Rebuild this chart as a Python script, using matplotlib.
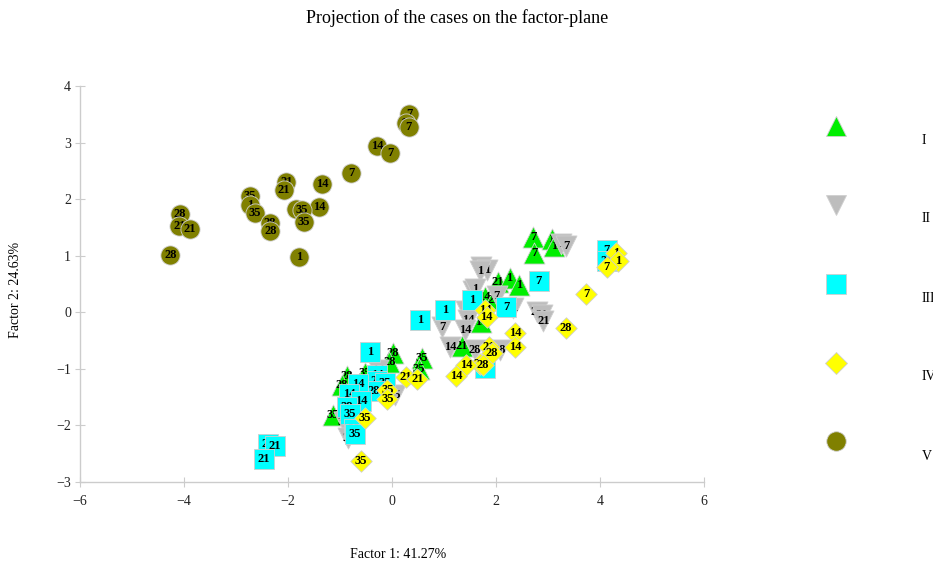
import matplotlib
matplotlib.use("Agg")
import matplotlib.pyplot as plt
from matplotlib.lines import Line2D

plt.rcParams['font.family'] = ['Liberation Serif', 'DejaVu Serif']

groups = ["I", "II", "III", "IV", "V"]
colors = ["#00ee00", "#bdbdbd", "#00ffff", "#ffff00", "#808000"]
markers = ["^", "v", "s", "D", "o"]

# Group I
x_I = [2.72, 2.74, 3.07, 3.11, 2.04, 2.26, 2.44, 1.78, 1.95, 1.71, 1.34, 0.01, -0.05, 0.58, 0.52, -0.87, -0.96, -0.52, -1.13]
y_I = [1.33, 1.05, 1.29, 1.18, 0.54, 0.61, 0.48, 0.27, 0.22, -0.17, -0.60, -0.72, -0.88, -0.80, -1.00, -1.13, -1.29, -1.08, -1.82]
l_I = ["7", "7", "1", "1", "21", "1", "1", "14", "21", "14", "21", "28", "28", "35", "35", "28", "28", "35", "35"]

# Group II
x_II = [3.25, 3.35, 1.71, 1.83, 1.69, 1.56, 1.60, 2.01, 1.42, 1.47, 1.40, 0.97, 1.12, 1.60, 2.08, 2.33, 2.78, 2.88, 2.91, 0.06, -0.92, -0.84, -0.27]
y_II = [1.20, 1.17, 0.80, 0.74, 0.73, 0.38, 0.41, 0.28, 0.02, -0.14, -0.32, -0.26, -0.61, -0.67, -0.67, 0.08, 0.01, -0.05, -0.15, -1.47, -1.94, -2.23, -1.02]
l_II = ["1", "7", "7", "1", "1", "1", "1", "7", "7", "14", "14", "7", "14", "28", "28", "21", "21", "21", "21", "35", "35", "28", "14"]

# Group III
x_III = [4.13, 4.13, 2.82, 2.20, 1.54, 1.02, 0.54, -0.42, 1.79, -0.28, -0.29, -0.13, -0.35, -0.65, -0.83, -0.60, -0.87, -0.81, -0.74, -0.71, -2.38, -2.25, -2.46]
y_III = [1.10, 0.91, 0.55, 0.09, 0.22, 0.04, -0.14, -0.70, -0.98, -1.11, -1.22, -1.25, -1.40, -1.26, -1.44, -1.57, -1.67, -1.79, -2.06, -2.16, -2.33, -2.37, -2.59]
l_III = ["7", "21", "7", "7", "1", "1", "1", "1", "35", "14", "21", "35", "28", "14", "14", "14", "28", "35", "28", "35", "21", "21", "21"]

# Group IV
x_IV = [4.31, 4.35, 4.13, 3.74, 3.34, 2.37, 2.37, 1.79, 1.82, 1.87, 1.92, 1.69, 1.75, 1.42, 1.23, 0.27, 0.49, -0.09, -0.09, -0.52, -0.60]
y_IV = [1.05, 0.91, 0.80, 0.33, -0.28, -0.37, -0.62, 0.04, -0.08, -0.61, -0.72, -0.91, -0.93, -0.94, -1.13, -1.14, -1.18, -1.38, -1.53, -1.86, -2.63]
l_IV = ["1", "1", "7", "7", "28", "14", "14", "14", "14", "21", "28", "35", "28", "14", "14", "21", "21", "35", "35", "35", "35"]

# Group V
x_V = [0.33, 0.27, 0.32, -0.29, -0.04, -0.78, -2.03, -2.08, -1.35, -1.40, -2.74, -2.73, -2.63, -4.08, -4.09, -3.88, -4.26, -2.35, -2.34, -1.85, -1.74, -1.69, -1.78]
y_V = [3.51, 3.35, 3.28, 2.94, 2.82, 2.46, 2.30, 2.17, 2.27, 1.86, 2.05, 1.89, 1.76, 1.74, 1.53, 1.48, 1.02, 1.57, 1.44, 1.82, 1.80, 1.60, 0.98]
l_V = ["7", "14", "7", "14", "7", "7", "21", "21", "14", "14", "35", "1", "35", "28", "21", "21", "28", "28", "28", "1", "35", "35", "1"]

xs = [x_I, x_II, x_III, x_IV, x_V]
ys = [y_I, y_II, y_III, y_IV, y_V]
ls = [l_I, l_II, l_III, l_IV, l_V]
sizes = [230, 230, 190, 120, 190]

xticks = [-6, -4, -2, 0, 2, 4, 6]
yticks = [-3, -2, -1, 0, 1, 2, 3, 4]

fig = plt.figure(figsize=(9.33, 5.63), dpi=100)
ax = fig.add_axes([80/933, 1-482/563, 624/933, 396/563])

z = 2
for g in range(5):
    for xv, yv, lab in zip(xs[g], ys[g], ls[g]):
        ax.scatter([xv], [yv], s=sizes[g], marker=markers[g], c=colors[g],
                   edgecolors="#cfcfcf", linewidths=0.6, zorder=z)
        ax.text(xv, yv, lab, ha="center", va="center", fontsize=9,
                fontweight="bold", color="black", zorder=z + 0.5)
        z += 1

ax.set_xlim(-6, 6)
ax.set_ylim(-3, 4)
ax.set_xticks(xticks)
ax.set_yticks(yticks)
ax.set_xticklabels(["\u2212" + str(-t) if t < 0 else str(t) for t in xticks])
ax.set_yticklabels(["\u2212" + str(-t) if t < 0 else str(t) for t in yticks])
for s in ["top", "right"]:
    ax.spines[s].set_visible(False)
for s in ["left", "bottom"]:
    ax.spines[s].set_color("#cccccc")
    ax.spines[s].set_linewidth(1)
ax.tick_params(axis="both", direction="inout", length=7, color="#cccccc",
               labelsize=10, labelcolor="#222222")
ax.tick_params(axis="x", pad=6)
ax.tick_params(axis="y", pad=3)

fig.text(457/933, 1-18/563, "Projection of the cases on the factor-plane",
         ha="center", va="center", fontsize=13)
fig.text(398/933, 1-555/563, "Factor 1: 41.27%", ha="center", va="center", fontsize=10)
fig.text(16/933, 1-290/563, "Factor 2: 24.63%", ha="center", va="center",
         fontsize=10, rotation=90)

# legend
leg_marker_y = [126, 205, 284, 363, 441]
leg_text_y = [140, 219, 298, 377, 456]
leg_sizes = [15, 15, 14, 11, 14]
for g in range(5):
    fig.lines.append(Line2D([836/933], [1 - leg_marker_y[g]/563], marker=markers[g],
                            markersize=leg_sizes[g], markerfacecolor=colors[g],
                            markeredgecolor="#cfcfcf", markeredgewidth=0.6,
                            linestyle="none", transform=fig.transFigure))
    fig.text(922/933, 1 - leg_text_y[g]/563, groups[g], ha="left", va="center",
             fontsize=10)

fig.savefig("out.png", dpi=100)
